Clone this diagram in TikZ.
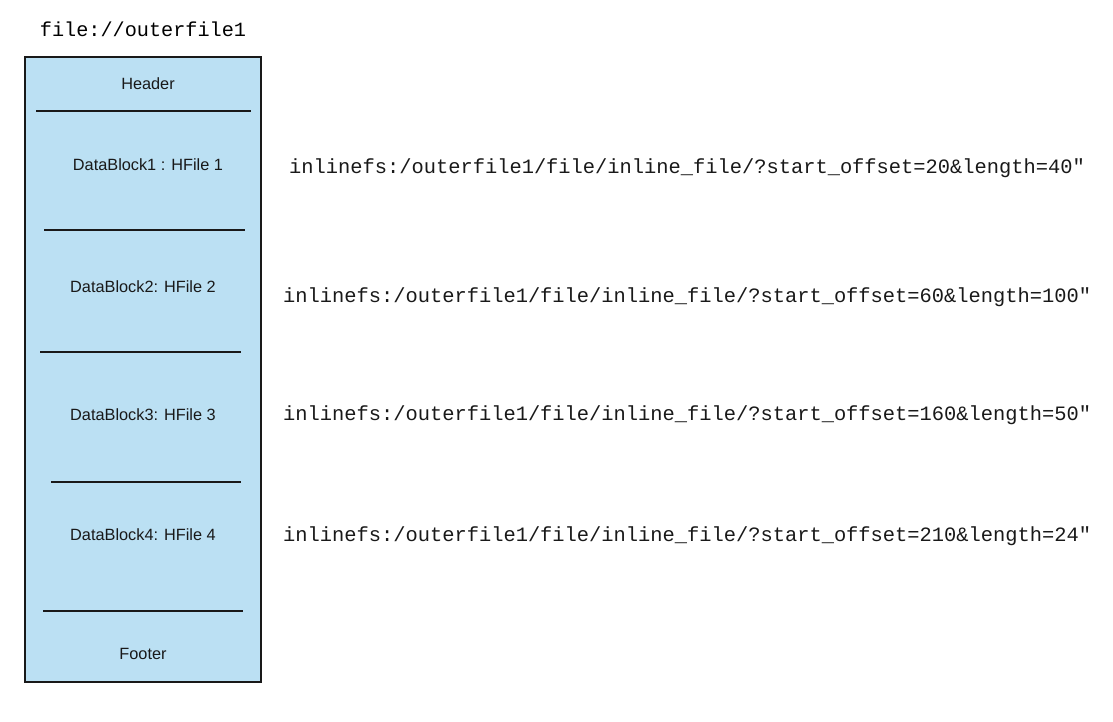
\documentclass[tikz,border=0pt]{standalone}
\usepackage{fontspec}
\setmainfont{Liberation Sans}
\setmonofont{Liberation Mono}
\definecolor{boxblue}{RGB}{187,224,243}
\begin{document}
\begin{tikzpicture}[x=1pt,y=-1pt,
  lbl/.style={font=\fontsize{16.3}{19}\selectfont, inner sep=0pt, text=black!90},
  url/.style={font=\ttfamily\fontsize{20.4}{24}\selectfont, inner sep=0pt, anchor=west, text=black!90},
  sep/.style={line width=2pt, black!90}]
\useasboundingbox (0,0) rectangle (1113,722);
\node[font=\ttfamily\fontsize{20.2}{24}\selectfont, inner sep=0pt] (title) at (143,29) {file://outerfile1};
\draw[fill=boxblue, draw=black!90, line width=1.8pt] (25,57) rectangle (261,682);
\node (box) at (143,369.5) {};
\draw[sep] (36,111) -- (251,111);
\draw[sep] (44,230) -- (245,230);
\draw[sep] (40,352) -- (241,352);
\draw[sep] (51,482) -- (241,482);
\draw[sep] (43,611) -- (243,611);
\node[lbl] (header) at (148,84) {Header};
\node[lbl] (db1) at (148,165) {DataBlock1 : HFile 1};
\node[lbl] (db2) at (143,287) {DataBlock2: HFile 2};
\node[lbl] (db3) at (143,415) {DataBlock3: HFile 3};
\node[lbl] (db4) at (143,535) {DataBlock4: HFile 4};
\node[lbl] (footer) at (143,654) {Footer};
\node[url] (u1) at (289,168.5) {inlinefs:/outerfile1/file/inline\_file/?start\_offset=20\&length=40"};
\node[url] (u2) at (283,297.5) {inlinefs:/outerfile1/file/inline\_file/?start\_offset=60\&length=100"};
\node[url] (u3) at (283,415.5) {inlinefs:/outerfile1/file/inline\_file/?start\_offset=160\&length=50"};
\node[url] (u4) at (283,536.5) {inlinefs:/outerfile1/file/inline\_file/?start\_offset=210\&length=24"};
\end{tikzpicture}
\end{document}
